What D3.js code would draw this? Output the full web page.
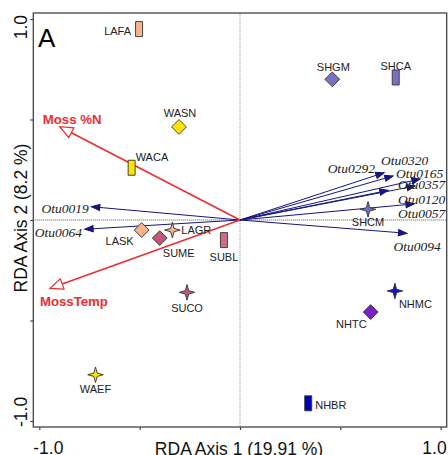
<!DOCTYPE html>
<html>
<head>
<meta charset="utf-8">
<script src="https://cdn.jsdelivr.net/npm/d3@7"></script>
<style>
  body { margin: 0; background: #fff; }
  svg text { font-family: Arial, "Liberation Sans", sans-serif; }
  .otu { font-family: "Times New Roman", "Liberation Serif", serif; font-style: italic; }
</style>
</head>
<body>
<div id="chart"></div>
<script>
/***** data *****/
// sites (scores on RDA axis 1 / axis 2)
var siteNames = ["LAFA", "WASN", "WACA", "SHGM", "SHCA", "SHCM", "LASK", "LAGR", "SUME", "SUBL", "SUCO", "WAEF", "NHMC", "NHTC", "NHBR"];
var siteX     = [-0.503, -0.304, -0.54, 0.46, 0.776, 0.638, -0.49, -0.337, -0.40, -0.08, -0.264, -0.72, 0.772, 0.651, 0.34];
var siteY     = [0.95, 0.463, 0.26, 0.70, 0.709, 0.053, -0.05, -0.05, -0.09, -0.10, -0.36, -0.77, -0.353, -0.458, -0.912];
// moss type -> marker: 0 = bar, 1 = diamond, 2 = star
var siteType  = [0, 1, 0, 1, 0, 2, 1, 2, 1, 0, 2, 2, 2, 1, 0];

// environmental vectors
var envNames = ["Moss %N", "MossTemp"];
var envX     = [-0.898, -0.947];
var envY     = [0.464, -0.34];

// OTU vectors
var otuNames = ["Otu0292", "Otu0320", "Otu0165", "Otu0357", "Otu0057", "Otu0120", "Otu0094", "Otu0019", "Otu0064"];
var otuX     = [0.717, 0.762, 0.897, 0.872, 0.737, 0.867, 0.83, -0.739, -0.772];
var otuY     = [0.235, 0.219, 0.204, 0.169, 0.147, 0.080, -0.066, 0.066, -0.046];

// axis ticks
var tickVals = [-1, -0.5, 0, 0.5, 1];
var tickLabels = {"-1": "-1.0", "1": "1.0"};

/***** styles *****/
var siteColor = {
  LAFA: "#f8b38c", LASK: "#f8b38c", LAGR: "#f8b38c",
  WASN: "#ffe200", WACA: "#ffe200", WAEF: "#ffe200",
  SUME: "#c4587c", SUBL: "#d06c88", SUCO: "#c25c7e",
  SHGM: "#7a70c2", SHCA: "#7a70c2", SHCM: "#7a70c2",
  NHMC: "#1414c6", NHTC: "#7b1fcc", NHBR: "#0000b4"
};
// label placement [anchor, dx, dy] relative to marker
var siteLab = {
  LAFA: ["end", -8, 6], WASN: ["middle", 1, -10], WACA: ["start", 4, -7],
  SHGM: ["middle", 1, -8], SHCA: ["middle", 0, -8], SHCM: ["middle", 0, 17],
  LASK: ["end", -8, 15], LAGR: ["start", 9, 4], SUME: ["middle", 19, 19],
  SUBL: ["middle", 0, 21], SUCO: ["middle", 0, 20], WAEF: ["middle", 0, 18.5],
  NHMC: ["start", 4, 17], NHTC: ["end", -4, 15.5], NHBR: ["start", 7, 5.5]
};
var otuLab = {
  Otu0292: ["end", -9, 0], Otu0320: ["start", -12, -11], Otu0165: ["start", -24, -1],
  Otu0357: ["start", -17, 3], Otu0057: ["start", 10, 27.5], Otu0120: ["start", -16, 0],
  Otu0094: ["start", -13, 18], Otu0019: ["end", -3, 6], Otu0064: ["end", -3, 8]
};
var envLab = {"Moss %N": [-17, -3], "MossTemp": [-10, 18]};

var red = "#ea2f33";
var navy = "#16167c";

//chart parameters
var width = 448;
var height = 455;
var frame = {left: 33.3, top: 13, right: 446.7, bottom: 427};

var svg = d3.select("#chart")
  .append("svg")
  .attr("width", width)
  .attr("height", height);

//scales
var x = d3.scaleLinear().domain([-1.03, 1.03]).range([frame.left, frame.right]);
var y = d3.scaleLinear().domain([-1.03, 1.03]).range([frame.bottom, frame.top]);

// zero lines
svg.append("line")
  .attr("x1", x(0)).attr("x2", x(0))
  .attr("y1", frame.top).attr("y2", frame.bottom)
  .attr("stroke", "#999").attr("stroke-width", 1).attr("stroke-dasharray", "1,1");
svg.append("line")
  .attr("x1", frame.left).attr("x2", frame.right)
  .attr("y1", y(0)).attr("y2", y(0))
  .attr("stroke", "#555").attr("stroke-width", 1).attr("stroke-dasharray", "1,1");

//axes (ticks only)
var xAxis = d3.axisBottom(x).tickValues(tickVals).tickSizeInner(3).tickSizeOuter(0).tickFormat("");
var yAxis = d3.axisLeft(y).tickValues(tickVals).tickSizeInner(3).tickSizeOuter(0).tickFormat("");
var gx = svg.append("g").attr("transform", "translate(0," + frame.bottom + ")").call(xAxis);
var gy = svg.append("g").attr("transform", "translate(" + frame.left + ",0)").call(yAxis);
[gx, gy].forEach(function(g) {
  g.select(".domain").remove();
  g.selectAll(".tick line").attr("stroke", "#444").attr("stroke-width", 1.2);
});

// frame
svg.append("rect")
  .attr("x", frame.left).attr("y", frame.top)
  .attr("width", frame.right - frame.left).attr("height", frame.bottom - frame.top)
  .attr("fill", "none").attr("stroke", "#444").attr("stroke-width", 1.3);

// tick labels, justified to frame edges like the original
svg.append("text").attr("x", frame.left).attr("y", 454)
  .attr("font-size", 17.5).attr("fill", "#111").text(tickLabels["-1"]);
svg.append("text").attr("x", frame.right).attr("y", 454).attr("text-anchor", "end")
  .attr("font-size", 17.5).attr("fill", "#111").text(tickLabels["1"]);
svg.append("text").attr("transform", "translate(26.7," + frame.bottom + ") rotate(-90)")
  .attr("font-size", 17.5).attr("fill", "#111").text(tickLabels["-1"]);
svg.append("text").attr("transform", "translate(26.7,15) rotate(-90)").attr("text-anchor", "end")
  .attr("font-size", 17.5).attr("fill", "#111").text(tickLabels["1"]);

// axis titles
svg.append("text").attr("x", 239).attr("y", 455).attr("text-anchor", "middle")
  .attr("font-size", 17.5).attr("fill", "#111").text("RDA Axis 1 (19.91 %)");
svg.append("text").attr("transform", "translate(26.7,218) rotate(-90)").attr("text-anchor", "middle")
  .attr("font-size", 17.5).attr("fill", "#111").text("RDA Axis 2 (8.2 %)");

// panel letter
svg.append("text").attr("x", 38).attr("y", 46.5)
  .attr("font-size", 26).attr("fill", "#000").text("A");

/***** vectors *****/
function arrowHead(g, tx, ty, len, half, fill, stroke) {
  var ang = Math.atan2(ty - y(0), tx - x(0)) * 180 / Math.PI;
  g.append("path")
    .attr("d", "M0,0L" + (-len) + "," + (-half) + "L" + (-len) + "," + half + "Z")
    .attr("transform", "translate(" + tx + "," + ty + ") rotate(" + ang + ")")
    .attr("fill", fill).attr("stroke", stroke).attr("stroke-width", 1.2)
    .attr("stroke-linejoin", "miter");
}

// OTU arrows
var gOtu = svg.append("g");
otuNames.forEach(function(name, i) {
  var tx = x(otuX[i]), ty = y(otuY[i]);
  gOtu.append("line")
    .attr("x1", x(0)).attr("y1", y(0)).attr("x2", tx).attr("y2", ty)
    .attr("stroke", navy).attr("stroke-width", 1);
  arrowHead(gOtu, tx, ty, 8, 3, navy, navy);
  var l = otuLab[name];
  gOtu.append("text").attr("class", "otu")
    .attr("x", tx + l[1]).attr("y", ty + l[2])
    .attr("text-anchor", l[0])
    .attr("font-size", 13.5).attr("fill", "#222")
    .text(name);
});

// environmental arrows
var gEnv = svg.append("g");
envNames.forEach(function(name, i) {
  var tx = x(envX[i]), ty = y(envY[i]);
  var dx = tx - x(0), dy = ty - y(0), d = Math.sqrt(dx * dx + dy * dy);
  gEnv.append("line")
    .attr("x1", x(0)).attr("y1", y(0))
    .attr("x2", tx - dx / d * 13).attr("y2", ty - dy / d * 13)
    .attr("stroke", red).attr("stroke-width", 1.6);
  arrowHead(gEnv, tx, ty, 13, 5.5, "#fff", red);
  gEnv.append("text")
    .attr("x", tx + envLab[name][0]).attr("y", ty + envLab[name][1])
    .attr("font-size", 13.2).attr("font-weight", "bold").attr("fill", red)
    .text(name);
});

/***** sites *****/
var starPts = d3.range(8).map(function(k) {
  var a = k * Math.PI / 4 - Math.PI / 2, r = (k % 2 === 0) ? 7.8 : 2.4;
  return [r * Math.cos(a), r * Math.sin(a)];
});
var starPath = d3.line()(starPts) + "Z";
var diamondPath = "M0,-7.4L7.4,0L0,7.4L-7.4,0Z";
var barPath = "M-3.5,-7.5H3.5V7.5H-3.5Z";
var shapes = [barPath, diamondPath, starPath];

var gSite = svg.append("g");
siteNames.forEach(function(name, i) {
  var px = x(siteX[i]), py = y(siteY[i]);
  gSite.append("path")
    .attr("d", shapes[siteType[i]])
    .attr("transform", "translate(" + px + "," + py + ")")
    .attr("fill", siteColor[name])
    .attr("stroke", "#333").attr("stroke-width", 0.9);
  var l = siteLab[name];
  gSite.append("text")
    .attr("x", px + l[1]).attr("y", py + l[2])
    .attr("text-anchor", l[0])
    .attr("font-size", 11).attr("fill", "#222")
    .text(name);
});
</script>
</body>
</html>
